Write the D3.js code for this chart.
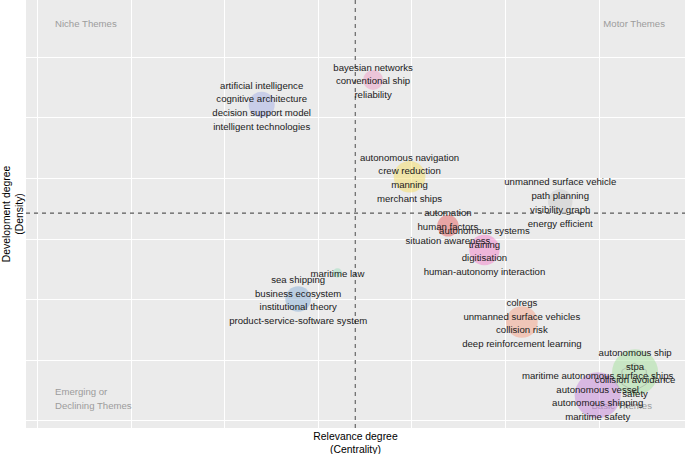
<!DOCTYPE html>
<html>
<head>
<meta charset="utf-8">
<script src="https://cdn.jsdelivr.net/npm/d3@7"></script>
<style>
html,body{margin:0;padding:0;background:#fff;}
svg{display:block;font-family:"Liberation Sans",Arial,sans-serif;}
</style>
</head>
<body>
<svg id="chart" width="685" height="454"></svg>
<script>
// ---- data ----
const clusters = ["artificial intelligence","bayesian networks","autonomous navigation","automation","autonomous systems","unmanned surface vehicle","sea shipping","maritime law","colregs","autonomous ship","maritime autonomous surface ships"];
const centrality = [2.40, 3.59, 3.98, 4.39, 4.78, 5.59, 2.79, 3.21, 5.18, 6.39, 5.99];
const density    = [5.21, 5.62, 4.02, 3.21, 2.81, 3.61, 2.00, 2.43, 1.62, 0.79, 0.41];
const frequency  = [170, 100, 250, 115, 230, 150, 165, 22, 250, 529, 529];
const fills = ["#a5afe5","#ed9dc5","#f5dd65","#e55f5f","#f181c9","#c9c9c9","#89afd7","#9dddbd","#f5a185","#a5e19d","#c585d9"];
const labels = [
  ["artificial intelligence","cognitive architecture","decision support model","intelligent technologies"],
  ["bayesian networks","conventional ship","reliability"],
  ["autonomous navigation","crew reduction","manning","merchant ships"],
  ["automation","human factors","situation awareness"],
  ["autonomous systems","training","digitisation","human-autonomy interaction"],
  ["unmanned surface vehicle","path planning","visibility graph","energy efficient"],
  ["sea shipping","business ecosystem","institutional theory","product-service-software system"],
  ["maritime law"],
  ["colregs","unmanned surface vehicles","collision risk","deep reinforcement learning"],
  ["autonomous ship","stpa","collision avoidance","safety"],
  ["maritime autonomous surface ships","autonomous vessel","autonomous shipping","maritime safety"]
];
const gridX = [0,1,2,3,4,5,6];
const gridY = [0,1,2,3,4,5,6];
const centralityMean = 3.40;
const densityMean = 3.42;
const quadrantLabels = ["Niche Themes","Motor Themes","Emerging or","Declining Themes","Basic Themes"];
const xTitle = ["Relevance degree","(Centrality)"];
const yTitle = ["Development degree","(Density)"];

// ---- layout ----
const svg = d3.select("#chart");
const P = {left:26, right:685, top:0, bottom:428};
const x = d3.scaleLinear().domain([-0.118, 6.923]).range([P.left, P.right]);
const y = d3.scaleLinear().domain([-0.132, 6.942]).range([P.bottom, P.top]);
const r = d3.scaleSqrt().domain([0, 529]).range([0, 23]);

svg.append("rect").attr("x",P.left).attr("y",P.top)
  .attr("width",P.right-P.left).attr("height",P.bottom-P.top).attr("fill","#ebebeb");

const g = svg.append("g");
g.selectAll(".gx").data(gridX).join("line")
  .attr("x1",d=>Math.round(x(d))+0.5).attr("x2",d=>Math.round(x(d))+0.5).attr("y1",P.top).attr("y2",P.bottom)
  .attr("stroke","#fff").attr("stroke-width",1);
g.selectAll(".gy").data(gridY).join("line")
  .attr("y1",d=>Math.round(y(d))+0.5).attr("y2",d=>Math.round(y(d))+0.5).attr("x1",P.left).attr("x2",P.right)
  .attr("stroke","#fff").attr("stroke-width",1);

// dashed mean lines
svg.append("line").attr("x1",x(centralityMean)).attr("x2",x(centralityMean))
  .attr("y1",P.top).attr("y2",P.bottom)
  .attr("stroke","#5a5a5a").attr("stroke-width",1.1).attr("stroke-dasharray","4,4");
svg.append("line").attr("y1",y(densityMean)).attr("y2",y(densityMean))
  .attr("x1",P.left).attr("x2",P.right)
  .attr("stroke","#5a5a5a").attr("stroke-width",1.1).attr("stroke-dasharray","4,4");

// quadrant labels
const ql = svg.append("g").attr("font-size","9.6px").attr("fill","#9c9c9c");
ql.append("text").attr("x",55).attr("y",24).attr("dy","0.35em").text(quadrantLabels[0]);
ql.append("text").attr("x",665).attr("y",24).attr("dy","0.35em").attr("text-anchor","end").text(quadrantLabels[1]);
ql.append("text").attr("x",55).attr("y",392).attr("dy","0.35em").text(quadrantLabels[2]);
ql.append("text").attr("x",55).attr("y",406).attr("dy","0.35em").text(quadrantLabels[3]);
ql.append("text").attr("x",652).attr("y",406).attr("dy","0.35em").attr("text-anchor","end").text(quadrantLabels[4]);

// bubbles
const idx = d3.range(clusters.length);
svg.append("g").selectAll("circle").data(idx).join("circle")
  .attr("cx",i=>x(centrality[i])).attr("cy",i=>y(density[i]))
  .attr("r",i=>r(frequency[i]))
  .attr("fill",i=>fills[i]).attr("fill-opacity",0.5);

// faint hexagon inside autonomous ship bubble
const hx = x(centrality[9]) - 1, hy = y(density[9]) + 5, hr = 14;
svg.append("path")
  .attr("d", d3.line()(d3.range(7).map(k=>[hx+hr*Math.cos(Math.PI/3*k+Math.PI/6), hy+hr*Math.sin(Math.PI/3*k+Math.PI/6)])))
  .attr("fill","none").attr("stroke","#9a9a9a").attr("stroke-opacity",0.45).attr("stroke-width",1);

// labels
const lineH = 13.7;
const lg = svg.append("g").attr("font-size","9.6px").attr("fill","#1a1a1a").attr("text-anchor","middle");
idx.forEach(i=>{
  const n = labels[i].length;
  labels[i].forEach((t,j)=>{
    lg.append("text")
      .attr("x", x(centrality[i]))
      .attr("y", y(density[i]) + (j-(n-1)/2)*lineH + 1)
      .attr("dy","0.35em").text(t);
  });
});

// axis titles
const at = svg.append("g").attr("font-size","10.4px").attr("fill","#000").attr("text-anchor","middle");
at.append("text").attr("x",(P.left+P.right)/2).attr("y",436).attr("dy","0.35em").text(xTitle[0]);
at.append("text").attr("x",(P.left+P.right)/2).attr("y",449).attr("dy","0.35em").text(xTitle[1]);
at.append("text").attr("transform",`translate(6,${(P.top+P.bottom)/2}) rotate(-90)`).attr("dy","0.35em").text(yTitle[0]);
at.append("text").attr("transform",`translate(19,${(P.top+P.bottom)/2}) rotate(-90)`).attr("dy","0.35em").text(yTitle[1]);
</script>
</body>
</html>
